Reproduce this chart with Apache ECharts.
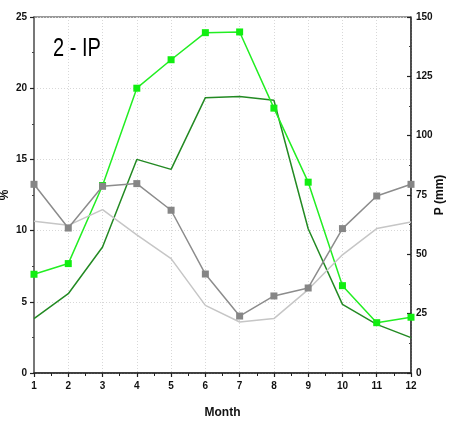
<!DOCTYPE html>
<html>
<head>
<meta charset="utf-8">
<script src="https://cdn.jsdelivr.net/npm/echarts@6/dist/echarts.min.js"></script>
<style>
  html, body { margin: 0; padding: 0; background: #fff; }
  #chart { width: 463px; height: 425px; }
</style>
</head>
<body>
<div id="chart"></div>
<script>
// Monthly values, station "2 - IP"
const months = [1, 2, 3, 4, 5, 6, 7, 8, 9, 10, 11, 12];

// Precipitation (mm), right axis
const precipA = [41.6, 46.1, 79, 120, 132, 143.4, 143.7, 111.6, 80.4, 36.8, 21.2, 23.5];
const precipB = [22.9, 33.4, 53.1, 90, 85.8, 116, 116.5, 114.9, 60.8, 28.9, 20.5, 14.9];

// Monthly share (%), left axis
const shareA = [13.25, 10.18, 13.11, 13.3, 11.43, 6.95, 4.0, 5.41, 5.97, 10.14, 12.43, 13.25];
const shareB = [10.65, 10.37, 11.47, 9.7, 8.03, 4.75, 3.58, 3.82, 5.86, 8.3, 10.14, 10.6];

const leftTicks = [0, 5, 10, 15, 20, 25];
const rightTicks = [0, 25, 50, 75, 100, 125, 150];

const FONT = '"Liberation Sans Narrow", "Liberation Sans", Arial, sans-serif';

function pairs(vals) {
  return months.map((m, i) => [m, vals[i]]);
}

const labelStyle = { fontFamily: FONT, fontWeight: 'bold', fontSize: 10, color: '#111' };

const chart = echarts.init(document.getElementById('chart'), null, { renderer: 'canvas' });

chart.setOption({
  animation: false,
  backgroundColor: '#ffffff',
  graphic: [
    {
      type: 'text',
      left: 53,
      top: 37,
      scaleX: 0.8,
      style: { text: '2 - IP', fontFamily: FONT, fontSize: 25, fill: '#000' }
    }
  ],
  grid: {
    left: 34, right: 52, top: 17, bottom: 52,
    outerBoundsMode: 'none',
    containLabel: false,
    show: true, borderColor: '#333', borderWidth: 1, backgroundColor: 'transparent'
  },
  xAxis: {
    type: 'value',
    min: 1, max: 12, interval: 1,
    name: 'Month',
    nameLocation: 'middle',
    nameGap: 34,
    nameMoveOverlap: false,
    nameTextStyle: { fontFamily: FONT, fontWeight: 'bold', fontSize: 12, color: '#111' },
    axisLine: { lineStyle: { color: '#222', width: 1.5 } },
    axisTick: { show: true, length: 4, lineStyle: { color: '#222', width: 1.2 } },
    minorTick: { show: true, splitNumber: 2, length: 3, lineStyle: { color: '#222', width: 1 } },
    axisLabel: Object.assign({ margin: 8 }, labelStyle),
    splitLine: { show: true, lineStyle: { color: '#d8d8d8', type: [1, 2], width: 1 } }
  },
  yAxis: [
    {
      type: 'value',
      min: 0, max: 25, interval: 5,
      name: '%',
      nameLocation: 'middle',
      nameGap: 23,
      nameRotate: 90,
      nameMoveOverlap: false,
      nameTextStyle: { fontFamily: FONT, fontWeight: 'bold', fontSize: 12, color: '#111' },
      axisLine: { show: true, lineStyle: { color: '#777', width: 2 } },
      axisTick: { show: true, length: 4, lineStyle: { color: '#222', width: 1.2 } },
      minorTick: { show: true, splitNumber: 2, length: 2, lineStyle: { color: '#444' } },
      axisLabel: Object.assign({
        margin: 7,
        formatter: v => leftTicks.includes(v) ? String(v) : ''
      }, labelStyle),
      splitLine: { show: true, lineStyle: { color: '#d8d8d8', type: [1, 2], width: 1 } }
    },
    {
      type: 'value',
      min: 0, max: 150, interval: 25,
      name: 'P (mm)',
      nameLocation: 'middle',
      nameGap: 23,
      nameRotate: 90,
      nameMoveOverlap: false,
      nameTextStyle: { fontFamily: FONT, fontWeight: 'bold', fontSize: 12, color: '#111' },
      axisLine: { show: true, lineStyle: { color: '#333', width: 1.5 } },
      axisTick: { show: true, inside: true, length: 4, lineStyle: { color: '#222', width: 1.2 } },
      minorTick: { show: true, splitNumber: 2, length: 2, lineStyle: { color: '#444' } },
      axisLabel: Object.assign({
        margin: 5,
        formatter: v => rightTicks.includes(v) ? String(v) : ''
      }, labelStyle),
      splitLine: { show: false }
    }
  ],
  series: [
    {
      name: 'P dark',
      type: 'line',
      yAxisIndex: 1,
      data: pairs(precipB),
      showSymbol: false,
      symbol: 'none',
      lineStyle: { color: '#238a23', width: 1.5 },
      z: 2
    },
    {
      name: 'P bright',
      type: 'line',
      yAxisIndex: 1,
      data: pairs(precipA),
      symbol: 'rect',
      symbolSize: 7,
      itemStyle: { color: '#11ee11' },
      lineStyle: { color: '#22ee22', width: 1.5 },
      z: 3
    },
    {
      name: '% light',
      type: 'line',
      yAxisIndex: 0,
      data: pairs(shareB),
      symbol: 'none',
      lineStyle: { color: '#c6c6c6', width: 1.5 },
      z: 4
    },
    {
      name: '% dark',
      type: 'line',
      yAxisIndex: 0,
      data: pairs(shareA),
      symbol: 'rect',
      symbolSize: 7,
      itemStyle: { color: '#868686' },
      lineStyle: { color: '#8c8c8c', width: 1.5 },
      z: 5
    }
  ]
});
</script>
</body>
</html>
